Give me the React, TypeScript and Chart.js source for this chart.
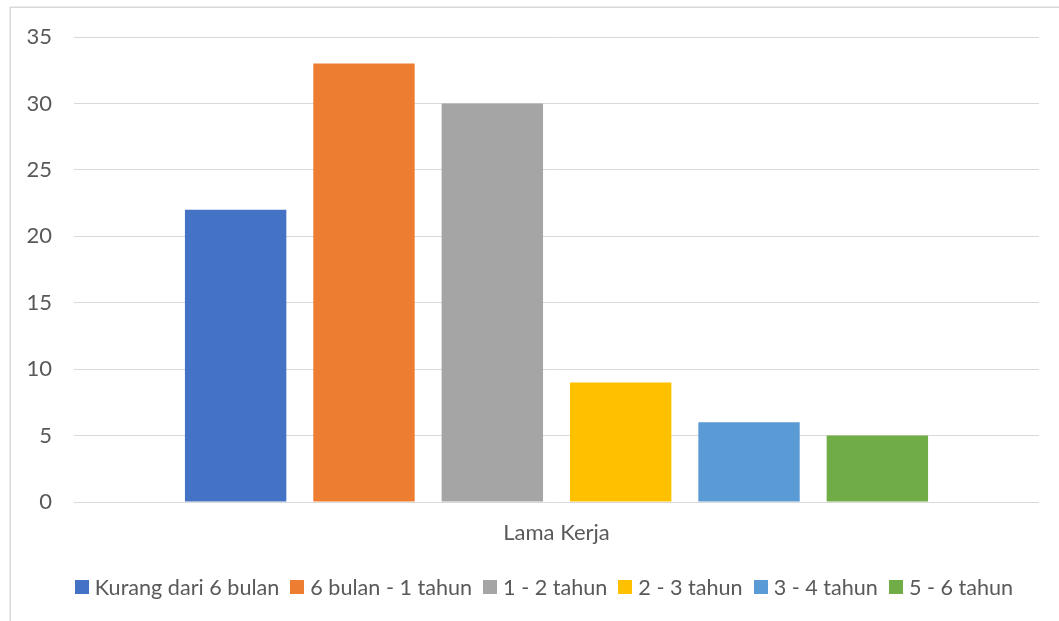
import React, { useEffect, useRef } from "react";
import { Chart, registerables } from "chart.js";

Chart.register(...registerables);

// Category and series data
const categories = ["Lama Kerja"];
const seriesNames = [
  "Kurang dari 6 bulan",
  "6 bulan - 1 tahun",
  "1 - 2 tahun",
  "2 - 3 tahun",
  "3 - 4 tahun",
  "5 - 6 tahun",
];
const seriesValues = [22, 33, 30, 9, 6, 5];
const seriesColors = ["#4472C4", "#ED7D31", "#A5A5A5", "#FFC000", "#5B9BD5", "#70AD47"];
const yAxisMin = 0;
const yAxisMax = 35;
const yAxisStep = 5;

const FONT_FAMILY = "Lato, 'Noto Sans', sans-serif";
const FONT_SIZE = 22;
const LEGEND_FONT_SIZE = 21.6;
const TEXT_COLOR = "#595959";
const GRID_COLOR = "#D9D9D9";

// Light frame around the chart (top and left edges fall inside the page)
const framePlugin = {
  id: "frame",
  beforeDraw(chart: any) {
    const { ctx, width, height } = chart;
    ctx.save();
    ctx.strokeStyle = GRID_COLOR;
    ctx.lineWidth = 1.5;
    ctx.beginPath();
    ctx.moveTo(10.25, height);
    ctx.lineTo(10.25, 7.25);
    ctx.lineTo(width, 7.25);
    ctx.stroke();
    ctx.restore();
  },
};

// Legend row drawn under the axis label, with square swatches
const legendRowPlugin = {
  id: "legendRow",
  afterDraw(chart: any) {
    const { ctx } = chart;
    const box = 14;
    const textGap = 6;
    const itemGap = 11;
    const centerX = 544;
    const centerY = 587;
    ctx.save();
    ctx.font = `${LEGEND_FONT_SIZE}px ${FONT_FAMILY}`;
    const items = chart.data.datasets.map((ds: any) => ({
      text: ds.label as string,
      color: ds.backgroundColor as string,
      w: ctx.measureText(ds.label).width,
    }));
    const total =
      items.reduce((s: number, it: any) => s + box + textGap + it.w, 0) +
      itemGap * (items.length - 1);
    let x = centerX - total / 2;
    ctx.textBaseline = "middle";
    ctx.textAlign = "left";
    items.forEach((it: any) => {
      ctx.fillStyle = it.color;
      ctx.fillRect(Math.round(x), centerY - box / 2, box, box);
      x += box + textGap;
      ctx.fillStyle = TEXT_COLOR;
      ctx.fillText(it.text, x, centerY + 1);
      x += it.w + itemGap;
    });
    ctx.restore();
  },
};

export default function App() {
  const canvasRef = useRef<HTMLCanvasElement | null>(null);

  useEffect(() => {
    if (!canvasRef.current) return;
    const chart = new Chart(canvasRef.current, {
      type: "bar",
      data: {
        labels: categories,
        datasets: seriesNames.map((name, i) => ({
          label: name,
          data: [seriesValues[i]],
          backgroundColor: seriesColors[i],
          borderWidth: 0,
          categoryPercentage: 0.798,
          barPercentage: 0.79,
        })),
      },
      options: {
        responsive: false,
        animation: false,
        layout: { padding: { left: 10, right: 20, top: 37, bottom: 76 } },
        plugins: {
          legend: { display: false },
          tooltip: { enabled: false },
          title: { display: false },
        },
        scales: {
          x: {
            type: "category",
            grid: { display: false, drawTicks: false },
            border: { display: false },
            ticks: {
              color: TEXT_COLOR,
              font: { family: FONT_FAMILY, size: FONT_SIZE },
              padding: 18,
            },
            afterFit(scale: any) {
              scale.height = 43;
            },
          },
          y: {
            min: yAxisMin,
            max: yAxisMax,
            grid: { color: GRID_COLOR, lineWidth: 1, drawTicks: false },
            border: { display: false },
            ticks: {
              stepSize: yAxisStep,
              color: TEXT_COLOR,
              font: { family: FONT_FAMILY, size: FONT_SIZE },
              padding: 22,
            },
            afterFit(scale: any) {
              scale.width = 64;
            },
          },
        },
      },
      plugins: [framePlugin, legendRowPlugin],
    });
    return () => chart.destroy();
  }, []);

  return (
    <div style={{ position: "absolute", left: 0, top: 0, width: 1059, height: 621, background: "#fff" }}>
      <canvas ref={canvasRef} width={1059} height={621} style={{ display: "block" }} />
    </div>
  );
}
